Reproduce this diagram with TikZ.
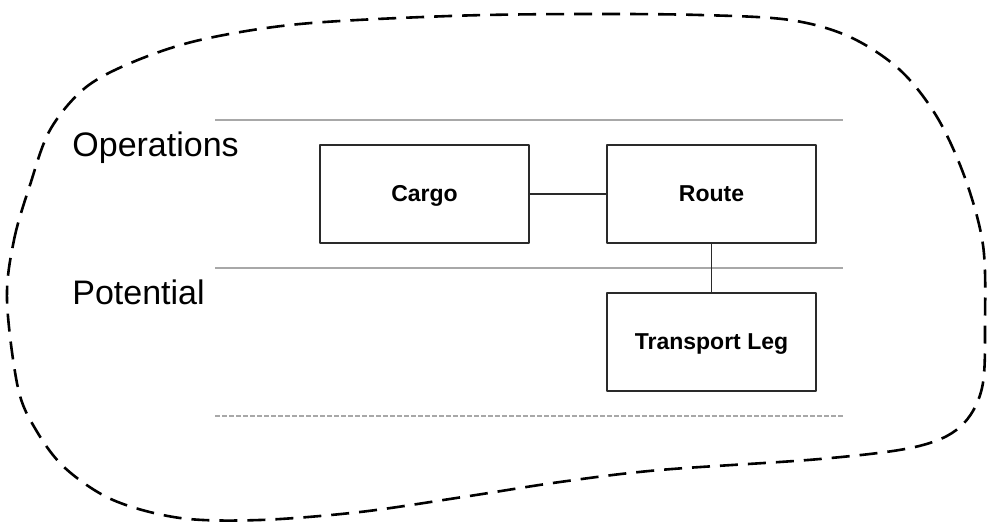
\documentclass[tikz,border=0pt]{standalone}
\usepackage{fontspec}
\setmainfont{Liberation Sans}
\usetikzlibrary{positioning}
\definecolor{lanegray}{HTML}{A8A8A8}
\definecolor{boxblack}{HTML}{2A2A2A}

\begin{document}
\begin{tikzpicture}[x=0.5pt, y=-0.5pt, line cap=butt, line join=round,
  every node/.style={inner sep=0pt},
  lane/.style={lanegray, line width=1.2pt},
  entity/.style={draw=boxblack, line width=0.8pt, minimum width=104.5pt,
    minimum height=49pt, text height=8.2pt, text depth=0.4pt,
    font=\fontsize{11.5}{13}\selectfont\bfseries},
  layer/.style={anchor=base west, font=\fontsize{17}{20}\selectfont},
  link/.style={boxblack, line width=0.7pt}]
  \path[use as bounding box] (0,0) rectangle (987,523);
  % domain boundary
  \draw[line width=1.3pt, dash pattern=on 9pt off 5pt]
    plot[smooth cycle, tension=0.55] coordinates {
      (7,300) (14,240) (30,185) (50,130) (85,88) (133,62) (200,40)
      (300,24) (450,16) (580,14) (700,15) (790,20) (850,37) (900,70)
      (937,117) (965,178) (983,245) (985,320) (982,388) (960,427)
      (915,447) (820,459) (660,470) (560,482) (463,497) (360,512)
      (260,520) (180,518) (113,500) (65,468) (36,430) (18,388)};
  % layer separators
  \draw[lane] (215,120) -- (843,120);
  \draw[lane] (215,268) -- (843,268);
  \draw[lane, dash pattern=on 2.5pt off 1pt] (215,416) -- (843,416);
  \node[layer] (ops) at (72,157) {Operations};
  \node[layer] (pot) at (72,305) {Potential};
  \node[entity] (cargo) at (424.5,194) {Cargo};
  \node[entity] (route) at (711.5,194) {Route};
  \node[entity] (leg) at (711.5,342) {Transport Leg};
  \draw[link] (cargo) -- (route);
  \draw[link] (route) -- (leg);
\end{tikzpicture}
\end{document}
